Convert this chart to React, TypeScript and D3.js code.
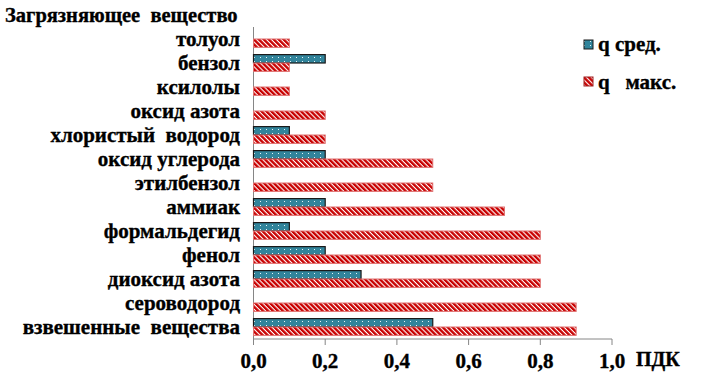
import React from 'react';
import * as d3 from 'd3';

const substances = [
  'толуол',
  'бензол',
  'ксилолы',
  'оксид азота',
  'хлористый  водород',
  'оксид углерода',
  'этилбензол',
  'аммиак',
  'формальдегид',
  'фенол',
  'диоксид азота',
  'сероводород',
  'взвешенные  вещества',
];
const qAvg = [0, 0.2, 0, 0, 0.1, 0.2, 0, 0.2, 0.1, 0.2, 0.3, 0, 0.5];
const qMax = [0.1, 0.1, 0.1, 0.2, 0.2, 0.5, 0.5, 0.7, 0.8, 0.8, 0.8, 0.9, 0.9];
const xTicks = [0, 0.2, 0.4, 0.6, 0.8, 1.0];

const W = 703;
const H = 388;
const txt = (size: number): React.CSSProperties => ({
  fontFamily: 'Liberation Serif',
  fontWeight: 'bold',
  fontSize: size,
  whiteSpace: 'pre',
  stroke: '#000',
  strokeWidth: 0.35,
});

export default function App() {
  const x = d3.scaleLinear().domain([0, 1]).range([253.5, 612]);
  const y = d3.scaleBand<string>().domain(substances).range([27, 339]);
  const barH = 8.4;
  const fmt = (v: number) => d3.format('.1f')(v).replace('.', ',');

  return (
    <svg width={W} height={H} style={{ position: 'absolute', left: 0, top: 0, background: '#fff' }}>
      <defs>
        <pattern id="dots" width="6" height="4" patternUnits="userSpaceOnUse">
          <rect width="6" height="4" fill="#31849b" />
          <rect x="2" y="1" width="1" height="1" fill="#e6f4f8" />
        </pattern>
        <pattern id="stripes" width="3.5" height="3.5" patternUnits="userSpaceOnUse" patternTransform="rotate(-45)">
          <rect width="3.5" height="3.5" fill="#ffffff" />
          <rect width="2.4" height="3.5" fill="#c80000" />
        </pattern>
      </defs>

      <text x={5} y={22} style={txt(20.5)}>
        Загрязняющее  вещество
      </text>

      {/* axes */}
      <line x1={x(0)} x2={x(0)} y1={27} y2={339} stroke="#868686" strokeWidth={1} />
      <line x1={x(0)} x2={x(1)} y1={339} y2={339} stroke="#868686" strokeWidth={1} />
      {xTicks.map((t) => (
        <g key={t}>
          <line x1={x(t)} x2={x(t)} y1={339} y2={345} stroke="#868686" />
          <text x={x(t)} y={368} textAnchor="middle" style={txt(21)}>
            {fmt(t)}
          </text>
        </g>
      ))}
      <text x={636} y={366} style={txt(20)}>
        ПДК
      </text>

      {substances.map((s, i) => {
        const c = (y(s) as number) + y.bandwidth() / 2;
        return (
          <g key={s}>
            <text x={240} y={c + 7} textAnchor="end" style={txt(21)}>
              {s}
            </text>
            {qAvg[i] > 0 && (
              <rect
                x={x(0)}
                y={c - barH}
                width={x(qAvg[i]) - x(0)}
                height={barH}
                fill="url(#dots)"
                stroke="#1a1a1a"
                strokeWidth={1.2}
              />
            )}
            <rect
              x={x(0)}
              y={c}
              width={x(qMax[i]) - x(0)}
              height={barH}
              fill="url(#stripes)"
              stroke="#e07070"
              strokeWidth={1}
            />
          </g>
        );
      })}

      {/* legend */}
      <rect x={584} y={40} width={9} height={9} fill="url(#dots)" stroke="#1a1a1a" strokeWidth={1} />
      <text x={598} y={51} style={txt(21)}>
        q сред.
      </text>
      <rect x={584} y={77} width={9} height={9} fill="url(#stripes)" stroke="#a02020" strokeWidth={1} />
      <text x={598} y={89} style={txt(21)}>
        q   макс.
      </text>
    </svg>
  );
}
